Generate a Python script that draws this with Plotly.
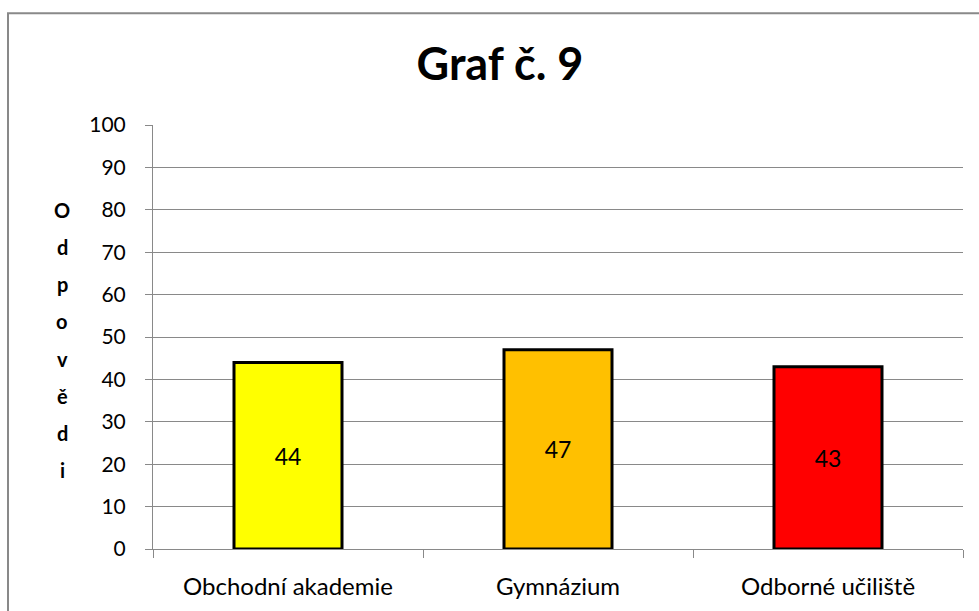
import plotly.graph_objects as go

categories = ["Obchodní akademie", "Gymnázium", "Odborné učiliště"]
values = [44, 47, 43]
bar_colors = ["#FFFF00", "#FFC000", "#FF0000"]
y_ticks = list(range(0, 101, 10))
title_text = "Graf č. 9"
y_title_letters = ["O", "d", "p", "o", "v", "ě", "d", "i"]

W, H = 979, 611
L, R, T, B = 153, 16, 124.5, 61.5
plot_h = H - T - B
plot_w = W - L - R
FONT = "Lato"
GRAY = "#898989"

fig = go.Figure()
fig.add_trace(go.Bar(
    x=categories, y=values,
    marker=dict(color=bar_colors, line=dict(color="black", width=3)),
    width=0.4,
    text=[str(v) for v in values],
    textposition="inside", insidetextanchor="middle",
    textfont=dict(family=FONT, size=23, color="black"),
    showlegend=False,
))

annotations = []
# stacked vertical axis title
top_px, step_px = 209.5, 37.3
for i, ch in enumerate(y_title_letters):
    ypx = top_px + i * step_px
    annotations.append(dict(
        text="<b>%s</b>" % ch, xref="paper", yref="paper",
        x=(62 - L) / plot_w, y=(H - B - ypx) / plot_h,
        xanchor="center", yanchor="middle", showarrow=False,
        font=dict(family=FONT, size=20, color="black"),
    ))

fig.update_layout(
    width=W, height=H,
    margin=dict(l=L, r=R, t=T, b=B, pad=0),
    paper_bgcolor="white", plot_bgcolor="white",
    title=dict(text="<b>%s</b>" % title_text, x=500 / W, xanchor="center",
               y=1 - 64 / H, yanchor="middle", yref="container",
               font=dict(family=FONT, size=45, color="black")),
    annotations=annotations,
    shapes=[dict(type="rect", xref="paper", yref="paper",
                 x0=(8 - L) / plot_w, x1=(990 - L) / plot_w,
                 y0=(H - B - 630) / plot_h, y1=(H - B - 12.5) / plot_h,
                 line=dict(color=GRAY, width=2), fillcolor="rgba(0,0,0,0)",
                 layer="below")],
    font=dict(family=FONT, size=21, color="black"),
)
fig.update_yaxes(range=[0, 100], tickvals=y_ticks, showgrid=True, gridcolor=GRAY,
                 gridwidth=1, zeroline=False, showline=True, linecolor=GRAY,
                 linewidth=1, ticks="outside", ticklen=7, tickcolor=GRAY,
                 tickfont=dict(family=FONT, size=21, color="black"),
                 ticklabelstandoff=15)
fig.update_xaxes(showline=True, linecolor=GRAY, linewidth=1, ticks="outside",
                 tickson="boundaries", ticklen=8, tickcolor=GRAY,
                 tickfont=dict(family=FONT, size=24, color="black"),
                 ticklabelstandoff=16)

fig.write_html("out.html", config={"displayModeBar": False},
               post_script="document.body.style.margin='0';")
